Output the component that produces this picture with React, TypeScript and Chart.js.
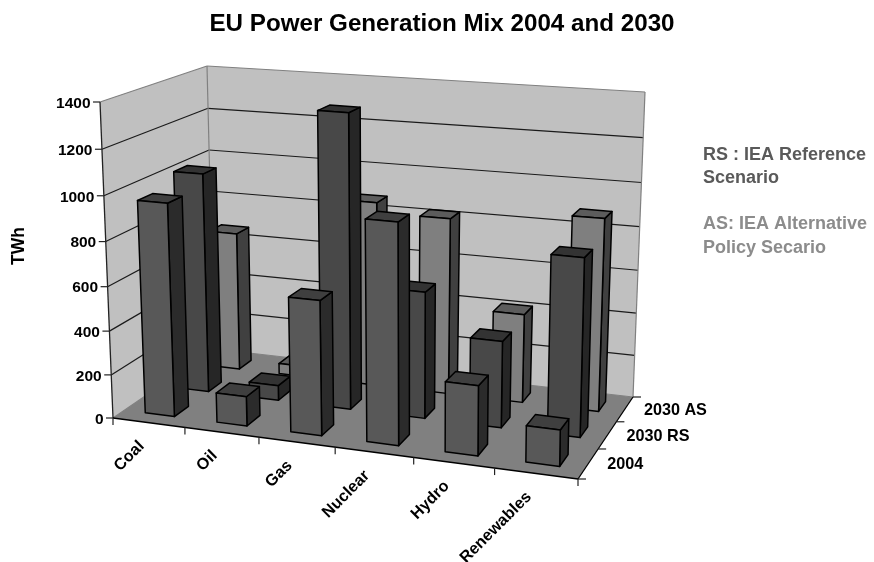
import React, { useEffect, useRef } from "react";
import { Chart, registerables } from "chart.js";

Chart.register(...registerables);

const categories = ["Coal", "Oil", "Gas", "Nuclear", "Hydro", "Renewables"];
const series2004 = [965, 135, 605, 975, 310, 160];
const seriesRS = [1020, 70, 1340, 580, 395, 800];
const seriesAS = [665, 50, 870, 825, 415, 885];
const seriesNames = ["2004", "2030 RS", "2030 AS"];
const yTickValues = [0, 200, 400, 600, 800, 1000, 1200, 1400];

const FONT = '"Liberation Sans", Arial, sans-serif';

// Box of the 3D plot: corners on the page, and foreshortening of each axis
const FL: [number, number] = [113, 418], FR: [number, number] = [578, 479], BL: [number, number] = [214, 349], BR: [number, number] = [633, 397];
const TFL: [number, number] = [100, 102], TFR: [number, number] = [584, 139], TBL: [number, number] = [207, 66], TBR: [number, number] = [645, 92];
const KU = 0.085, MD = 0.155, KH = 0.052;

const faces = [
  { front: "#585858", top: "#3f3f3f", side: "#2b2b2b" },
  { front: "#484848", top: "#333333", side: "#262626" },
  { front: "#7f7f7f", top: "#5c5c5c", side: "#404040" },
];

function bil(a: number[], b: number[], c: number[], d: number[], u: number, v: number) {
  const x0 = a[0] + (b[0] - a[0]) * u, y0 = a[1] + (b[1] - a[1]) * u;
  const x1 = c[0] + (d[0] - c[0]) * u, y1 = c[1] + (d[1] - c[1]) * u;
  return [x0 + (x1 - x0) * v, y0 + (y1 - y0) * v];
}
function P(u: number, d: number, h: number): [number, number] {
  const uu = (u * (1 - KU)) / (1 - KU * u);
  const dd = (d * (1 + MD)) / (1 + MD * d);
  const hh = (h * (1 - KH)) / (1 - KH * h);
  const f = bil(FL, FR, BL, BR, uu, dd);
  const t = bil(TFL, TFR, TBL, TBR, uu, dd);
  return [f[0] + (t[0] - f[0]) * hh, f[1] + (t[1] - f[1]) * hh];
}

function poly(ctx: CanvasRenderingContext2D, pts: number[][], fill?: string, stroke?: string, lw = 1) {
  ctx.beginPath();
  pts.forEach((p, i) => (i ? ctx.lineTo(p[0], p[1]) : ctx.moveTo(p[0], p[1])));
  ctx.closePath();
  if (fill) { ctx.fillStyle = fill; ctx.fill(); }
  if (stroke) { ctx.strokeStyle = stroke; ctx.lineWidth = lw; ctx.stroke(); }
}
function line(ctx: CanvasRenderingContext2D, a: number[], b: number[], color: string, lw = 1) {
  ctx.beginPath();
  ctx.moveTo(a[0], a[1]);
  ctx.lineTo(b[0], b[1]);
  ctx.strokeStyle = color;
  ctx.lineWidth = lw;
  ctx.stroke();
}

const box3d = {
  id: "box3d",
  beforeDatasetsDraw(chart: any) {
    const ctx: CanvasRenderingContext2D = chart.ctx;
    const xs = chart.scales.x, ys = chart.scales.y;
    const H = (v: number) => (ys.bottom - ys.getPixelForValue(v)) / (ys.bottom - ys.top);
    const nCat = categories.length, nSer = seriesNames.length;
    ctx.save();
    ctx.lineJoin = "round";

    // walls and floor
    poly(ctx, [P(0, 0, 0), P(0, 1, 0), P(0, 1, 1), P(0, 0, 1)], "#c0c0c0");
    poly(ctx, [P(0, 1, 0), P(1, 1, 0), P(1, 1, 1), P(0, 1, 1)], "#c0c0c0");
    poly(ctx, [P(0, 0, 0), P(1, 0, 0), P(1, 1, 0), P(0, 1, 0)], "#808080");

    // grid
    yTickValues.forEach((t) => {
      const h = H(t);
      const c = t === 0 || t === 1400 ? "#808080" : "#1a1a1a";
      line(ctx, P(0, 0, h), P(0, 1, h), c, 1.2);
      line(ctx, P(0, 1, h), P(1, 1, h), c, 1.2);
    });
    line(ctx, P(0, 1, 0), P(0, 1, 1), "#808080", 1.2);
    line(ctx, P(1, 1, 0), P(1, 1, 1), "#808080", 1.2);

    // axes
    line(ctx, P(0, 0, 0), P(0, 0, 1), "#222", 1.3);
    line(ctx, P(0, 0, 0), P(1, 0, 0), "#000", 1.3);
    line(ctx, P(1, 0, 0), P(1, 1, 0), "#000", 1.3);

    // value ticks
    ctx.font = `bold 15.5px ${FONT}`;
    ctx.fillStyle = "#000";
    yTickValues.forEach((t) => {
      const p = P(0, 0, H(t));
      line(ctx, [p[0] - 7, p[1]], p, "#222", 1.2);
      ctx.textAlign = "right";
      ctx.textBaseline = "middle";
      ctx.fillStyle = "#000";
      ctx.fillText(String(t), p[0] - 9.5, p[1] + 1.5);
    });

    // category ticks
    for (let i = 0; i <= nCat; i++) {
      const p = P(i / nCat, 0, 0);
      line(ctx, p, [p[0], p[1] + 7], "#222", 1.2);
    }
    // depth ticks
    for (let i = 0; i <= nSer; i++) {
      const p = P(1, i / nSer, 0);
      line(ctx, p, [p[0] + 8, p[1]], "#222", 1.2);
    }
    // category labels
    ctx.font = `bold 16.2px ${FONT}`;
    categories.forEach((c, i) => {
      const p = P((xs.getPixelForValue(i) - xs.left) / (xs.right - xs.left), 0, 0);
      ctx.save();
      ctx.translate(p[0] - 7, p[1] + 21);
      ctx.rotate(-Math.PI / 4);
      ctx.textAlign = "right";
      ctx.textBaseline = "middle";
      ctx.fillStyle = "#000";
      ctx.fillText(c, 0, 0);
      ctx.restore();
    });
    // depth labels
    seriesNames.forEach((s, i) => {
      const p = P(1, (i + 0.5) / nSer, 0);
      ctx.textAlign = "left";
      ctx.textBaseline = "middle";
      ctx.fillStyle = "#000";
      ctx.fillText(s, p[0] + 19, p[1] + 1);
    });

    // bars, back row first
    for (let s = nSer - 1; s >= 0; s--) {
      const ds = chart.data.datasets[s];
      const col = faces[s];
      ds.data.forEach((v: number, i: number) => {
        const cu = (xs.getPixelForValue(i) - xs.left) / (xs.right - xs.left);
        const halfU = 0.205 / nCat;
        const u0 = cu - halfU, u1 = cu + halfU;
        const d0 = (s + 0.3) / nSer, d1 = (s + 0.7) / nSer;
        const h = H(v);
        poly(ctx, [P(u1, d0, 0), P(u1, d1, 0), P(u1, d1, h), P(u1, d0, h)], col.side, "#000", 1.5);
        poly(ctx, [P(u0, d0, h), P(u1, d0, h), P(u1, d1, h), P(u0, d1, h)], col.top, "#000", 1.5);
        poly(ctx, [P(u0, d0, 0), P(u1, d0, 0), P(u1, d0, h), P(u0, d0, h)], col.front, "#000", 1.5);
      });
    }

    // axis title
    ctx.save();
    ctx.translate(19, 246);
    ctx.rotate(-Math.PI / 2);
    ctx.textAlign = "center";
    ctx.textBaseline = "middle";
    ctx.fillStyle = "#000";
    ctx.font = `bold 17.5px ${FONT}`;
    ctx.fillText("TWh", 0, 0);
    ctx.restore();

    // notes
    ctx.textAlign = "left";
    ctx.textBaseline = "middle";
    ctx.font = `bold 18px ${FONT}`;
    ctx.fillStyle = "#5a5a5a";
    ctx.fillText("RS : IEA Reference", 703, 155);
    ctx.fillText("Scenario", 703, 178);
    ctx.fillStyle = "#8c8c8c";
    ctx.fillText("AS: IEA Alternative", 703, 224.5);
    ctx.fillText("Policy Secario", 703, 248.5);

    ctx.restore();
    return false;
  },
};

export default function App() {
  const ref = useRef<HTMLCanvasElement>(null);
  useEffect(() => {
    document.body.style.margin = "0";
    const chart = new Chart(ref.current!, {
      type: "bar",
      data: {
        labels: categories,
        datasets: [
          { label: seriesNames[0], data: series2004 },
          { label: seriesNames[1], data: seriesRS },
          { label: seriesNames[2], data: seriesAS },
        ],
      },
      options: {
        responsive: false,
        animation: false,
        events: [],
        layout: { padding: { left: 10 } },
        plugins: {
          legend: { display: false },
          tooltip: { enabled: false },
          title: {
            display: true,
            text: "EU Power Generation Mix 2004 and 2030",
            color: "#000",
            font: { family: FONT, size: 24.2, weight: "bold" },
            padding: { top: 10, bottom: 10 },
          },
        },
        scales: {
          x: { type: "category", offset: true, grid: { display: false }, border: { display: false }, ticks: { display: false } },
          y: { type: "linear", min: 0, max: 1400, grid: { display: false }, border: { display: false }, ticks: { display: false, stepSize: 200 } },
        },
      },
      plugins: [box3d],
    } as any);
    return () => chart.destroy();
  }, []);
  return <canvas ref={ref} width={874} height={562} style={{ display: "block" }} />;
}
